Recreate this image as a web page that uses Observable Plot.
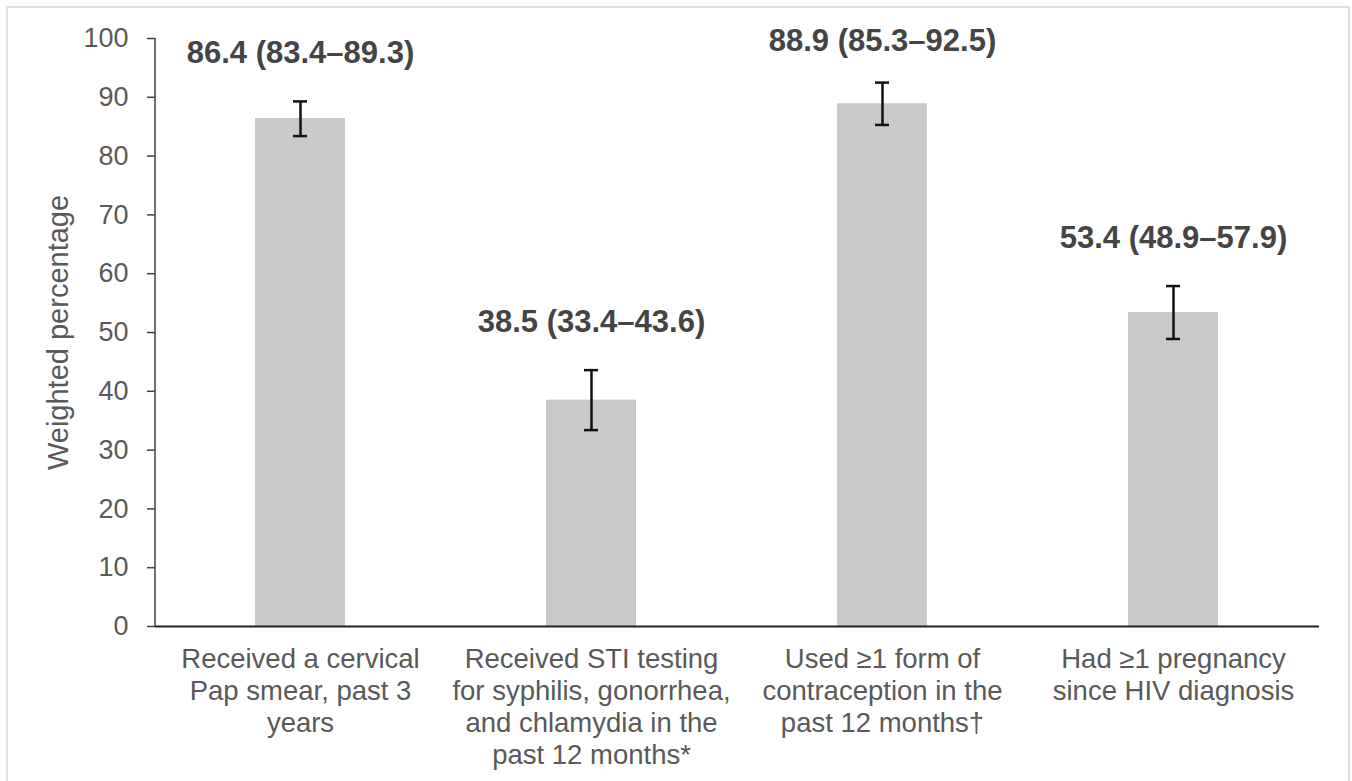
<!DOCTYPE html>
<html>
<head>
<meta charset="utf-8">
<script src="https://cdn.jsdelivr.net/npm/d3@7"></script>
<script src="https://cdn.jsdelivr.net/npm/@observablehq/plot@0.6"></script>
<style>
  html, body { margin: 0; padding: 0; background: #fff; }
  #wrap { position: relative; width: 1352px; height: 781px; overflow: hidden; }
  #border { position: absolute; left: 6px; top: 6px; width: 1340px; height: 790px; border: 2px solid #e0e0e0; pointer-events: none; }
</style>
</head>
<body>
<div id="wrap"><div id="chart"></div><div id="border"></div></div>
<script>
const categories = [
  "Received a cervical\nPap smear, past 3\nyears",
  "Received STI testing\nfor syphilis, gonorrhea,\nand chlamydia in the\npast 12 months*",
  "Used \u22651 form of\ncontraception in the\npast 12 months\u2020",
  "Had \u22651 pregnancy\nsince HIV diagnosis"
];
const values = [86.4, 38.5, 88.9, 53.4];
const lower = [83.4, 33.4, 85.3, 48.9];
const upper = [89.3, 43.6, 92.5, 57.9];
const yTicks = [0, 10, 20, 30, 40, 50, 60, 70, 80, 90, 100];
const yTitle = "Weighted percentage";

const data = categories.map((c, i) => ({
  cat: c, v: values[i], lo: lower[i], hi: upper[i],
  label: `${values[i].toFixed(1)} (${lower[i].toFixed(1)}\u2013${upper[i].toFixed(1)})`
}));

const font = "'Liberation Sans', Arial, Helvetica, sans-serif";

const chart = Plot.plot({
  width: 1352,
  height: 781,
  marginLeft: 155,
  marginRight: 33,
  marginTop: 38,
  marginBottom: 155,
  style: { fontFamily: font, background: "transparent", overflow: "visible" },
  x: { domain: categories, paddingInner: 0.69, paddingOuter: 0.345, axis: null },
  y: { domain: [0, 100], axis: null },
  marks: [
    Plot.barY(data, { x: "cat", y: "v", fill: "#c9c9c9" }),
    Plot.ruleX(data, { x: "cat", y1: "lo", y2: "hi", stroke: "#111", strokeWidth: 2.5 }),
    Plot.tickY(data, { x: "cat", y: "lo", stroke: "#111", strokeWidth: 2.5, insetLeft: 38, insetRight: 38 }),
    Plot.tickY(data, { x: "cat", y: "hi", stroke: "#111", strokeWidth: 2.5, insetLeft: 38, insetRight: 38 }),
    Plot.text(data, { x: "cat", y: d => Math.min(d.hi + 8.2, 99.5), text: "label", fontSize: 31, fontWeight: "bold", fill: "#444", lineAnchor: "middle" }),
    Plot.axisY({ ticks: yTicks, tickSize: 8, tickPadding: 19, fontSize: 27, fill: "#595959", stroke: "#404040", strokeWidth: 1.5, label: null }),
    Plot.axisX({ tickSize: 0, tickPadding: 19, fontSize: 27.5, fill: "#595959", lineHeight: 1.165, label: null }),
    Plot.text([yTitle], { frameAnchor: "left", dx: -97, rotate: -90, text: d => d, fontSize: 29, fill: "#595959", textAnchor: "middle", lineAnchor: "middle" }),
    (index, scales, values, dims) => {
      const g = d3.create("svg:g");
      g.append("line")
        .attr("x1", dims.marginLeft).attr("x2", dims.marginLeft)
        .attr("y1", dims.marginTop).attr("y2", dims.height - dims.marginBottom)
        .attr("stroke", "#404040").attr("stroke-width", 1.5);
      return g.node();
    },
    Plot.ruleY([0], { stroke: "#222", strokeWidth: 2.2 })
  ]
});
document.getElementById("chart").appendChild(chart);
</script>
</body>
</html>
